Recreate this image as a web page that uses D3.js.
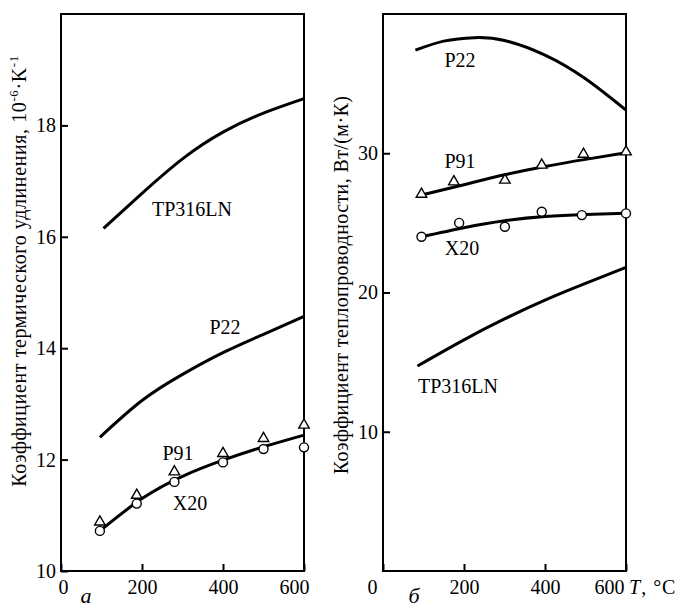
<!DOCTYPE html>
<html>
<head>
<meta charset="utf-8">
<script src="https://cdn.jsdelivr.net/npm/d3@7"></script>
<style>
  body { margin: 0; background: #fff; }
</style>
</head>
<body>
<script>
// ---- panel a: thermal expansion coefficient, 10^-6 K^-1 ----
let tp316A_T = [105, 200, 300, 400, 500, 600];
let tp316A   = [16.15, 16.78, 17.40, 17.88, 18.22, 18.48];
let p22A_T   = [96, 200, 300, 400, 500, 600];
let p22A     = [12.40, 13.06, 13.53, 13.92, 14.25, 14.57];
let fitA_T   = [96, 200, 300, 400, 500, 600];
let fitA     = [10.72, 11.30, 11.70, 11.99, 12.23, 12.44];
let markA_T  = [96, 187, 280, 400, 500, 600];
let p91A     = [10.88, 11.36, 11.78, 12.11, 12.38, 12.62];
let x20A     = [10.72, 11.21, 11.60, 11.95, 12.19, 12.22];

// ---- panel b: thermal conductivity, W/(m K) ----
let p22B_T    = [80, 150, 225, 300, 400, 500, 600];
let p22B      = [37.4, 38.05, 38.3, 38.1, 37.05, 35.35, 33.1];
let p91B_T    = [95, 200, 300, 400, 500, 600];
let p91B      = [27.0, 27.74, 28.45, 29.05, 29.56, 30.03];
let p91Mark_T = [95, 175, 301, 392, 495, 600];
let p91Mark   = [27.06, 27.95, 28.07, 29.15, 29.93, 30.1];
let x20B_T    = [95, 200, 300, 400, 500, 600];
let x20B      = [24.0, 24.65, 25.15, 25.45, 25.6, 25.7];
let x20Mark_T = [95, 188, 301, 392, 491, 600];
let x20Mark   = [24.0, 25.0, 24.72, 25.8, 25.56, 25.68];
let tp316B_T  = [85, 200, 300, 400, 500, 600];
let tp316B    = [14.72, 16.6, 18.1, 19.45, 20.65, 21.8];

let xTicks = [0, 200, 400, 600];
let yTicksA = [10, 12, 14, 16, 18];
let yTicksB = [10, 20, 30];

let plotTop = 14, plotBottom = 571;
let fs = 20;
let serif = "'Liberation Serif', 'Times New Roman', 'DejaVu Serif', serif";

let svg = d3.select("body").append("svg")
    .attr("width", 685)
    .attr("height", 610)
    .style("display", "block")
    .attr("font-family", serif);

function drawPanel(o) {
    let x = d3.scaleLinear().domain([0, 600]).range([o.left, o.right]);
    let y = d3.scaleLinear().domain(o.yDomain).range([plotBottom, plotTop]);
    let g = svg.append("g");

    let line = d3.line()
        .x(d => x(d[0]))
        .y(d => y(d[1]))
        .curve(d3.curveNatural);

    // axes
    let ya = g.append("g")
        .attr("transform", `translate(${o.left},0)`)
        .call(d3.axisLeft(y).tickValues(o.yTicks).tickSize(-7).tickPadding(5).tickFormat(d3.format("d")));
    let xa = g.append("g")
        .attr("transform", `translate(0,${plotBottom})`)
        .call(d3.axisBottom(x).tickValues(xTicks).tickSize(-7).tickPadding(9).tickFormat(d3.format("d")));
    [ya, xa].forEach(a => {
        a.select(".domain").remove();
        a.attr("font-family", serif).attr("font-size", fs);
        a.selectAll(".tick line").attr("stroke-width", 2);
        a.selectAll(".tick text").attr("fill", "#000");
    });
    xa.selectAll(".tick text")
        .attr("dx", d => d === 600 ? o.lastDx : (d === 0 ? o.zeroDx : 0));

    // frame
    g.append("rect")
        .attr("x", o.left).attr("y", plotTop)
        .attr("width", o.right - o.left).attr("height", plotBottom - plotTop)
        .attr("fill", "none").attr("stroke", "#000").attr("stroke-width", 2);

    // curves
    o.curves.forEach(c => {
        g.append("path")
            .datum(d3.zip(c[0], c[1]))
            .attr("d", line)
            .attr("fill", "none")
            .attr("stroke", "#000")
            .attr("stroke-width", 3);
    });

    // markers
    g.selectAll(".tri")
        .data(d3.zip(o.tri[0], o.tri[1]))
        .enter().append("path")
        .attr("d", d3.symbol(d3.symbolTriangle).size(48))
        .attr("transform", d => `translate(${x(d[0])},${y(d[1])})`)
        .attr("fill", "#fff").attr("stroke", "#000").attr("stroke-width", 1.4);
    g.selectAll(".circ")
        .data(d3.zip(o.circ[0], o.circ[1]))
        .enter().append("circle")
        .attr("cx", d => x(d[0]))
        .attr("cy", d => y(d[1]))
        .attr("r", 4.5)
        .attr("fill", "#fff").attr("stroke", "#000").attr("stroke-width", 1.4);

    // curve names
    o.names.forEach(n => {
        g.append("text")
            .attr("x", n[1]).attr("y", n[2])
            .attr("text-anchor", "middle")
            .attr("font-size", fs)
            .text(n[0]);
    });

    // panel letter
    g.append("text")
        .attr("x", o.letterX).attr("y", 603)
        .attr("font-size", fs + 2)
        .attr("font-style", "italic")
        .attr("text-anchor", "middle")
        .text(o.letter);
}

drawPanel({
    left: 61, right: 304,
    yDomain: [10, 20], yTicks: yTicksA, zeroDx: 2, lastDx: -10,
    curves: [[tp316A_T, tp316A], [p22A_T, p22A], [fitA_T, fitA]],
    tri: [markA_T, p91A],
    circ: [markA_T, x20A],
    names: [["TP316LN", 192, 216], ["P22", 225, 334], ["P91", 178, 460], ["X20", 190, 510]],
    letter: "а", letterX: 86
});

drawPanel({
    left: 383, right: 626,
    yDomain: [0, 40], yTicks: yTicksB, zeroDx: -11, lastDx: -17,
    curves: [[p22B_T, p22B], [p91B_T, p91B], [x20B_T, x20B], [tp316B_T, tp316B]],
    tri: [p91Mark_T, p91Mark],
    circ: [x20Mark_T, x20Mark],
    names: [["P22", 460, 67], ["P91", 460, 168], ["X20", 462, 255], ["TP316LN", 458, 393]],
    letter: "б", letterX: 414
});

// x-axis unit on the right panel
let unit = svg.append("text")
    .attr("x", 629).attr("y", 594)
    .attr("font-size", fs)
    .attr("letter-spacing", 1);
unit.append("tspan").attr("font-style", "italic").text("T");
unit.append("tspan").text(", °C");

// y-axis titles
let titleA = svg.append("text")
    .attr("transform", "translate(26,271) rotate(-90)")
    .attr("text-anchor", "middle")
    .attr("font-size", fs)
    .attr("letter-spacing", 0.6);
titleA.append("tspan").text("Коэффициент термического удлинения, 10");
titleA.append("tspan").attr("dy", -8).attr("font-size", 13).text("-6");
titleA.append("tspan").attr("dy", 8).text("·K");
titleA.append("tspan").attr("dy", -8).attr("font-size", 13).text("-1");

svg.append("text")
    .attr("transform", "translate(348,285) rotate(-90)")
    .attr("text-anchor", "middle")
    .attr("font-size", fs)
    .attr("letter-spacing", 0.4)
    .text("Коэффициент теплопроводности, Вт/(м·К)");
</script>
</body>
</html>
